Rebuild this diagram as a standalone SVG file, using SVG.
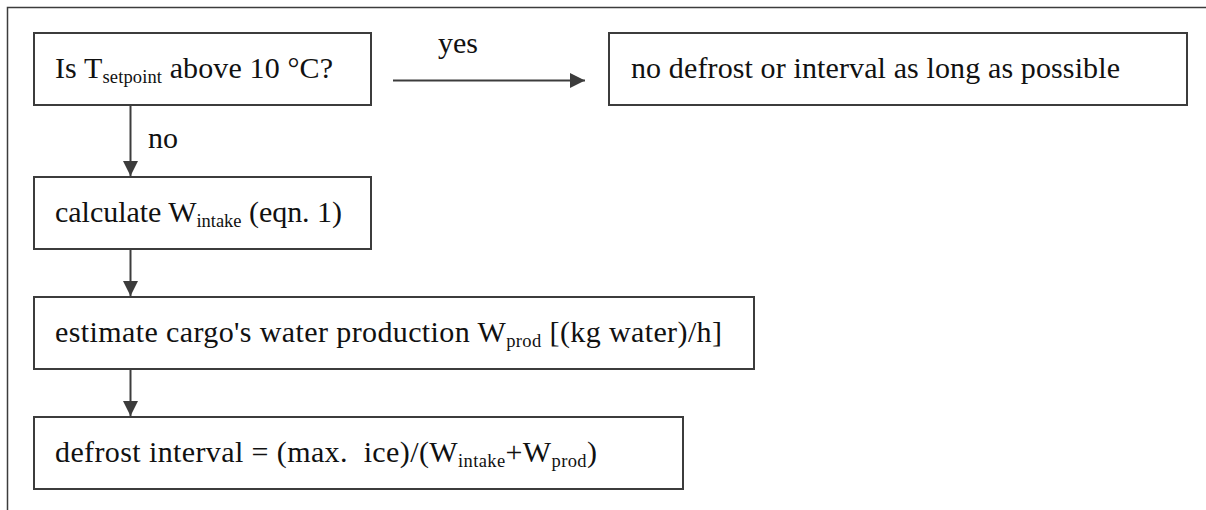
<svg xmlns="http://www.w3.org/2000/svg" width="1206" height="510" viewBox="0 0 1206 510">
  <style>
    .frame { fill: none; stroke: #3c3c3c; stroke-width: 1.5; }
    .box { fill: #ffffff; stroke: #3c3c3c; stroke-width: 2; }
    .edge { fill: none; stroke: #3c3c3c; stroke-width: 2; }
    .lbl { font-family: "Liberation Serif", "Times New Roman", serif; font-size: 30px; fill: #111111; white-space: pre; }
    .sub { font-size: 18.5px; }
  </style>
  <defs>
    <marker id="arrow" markerUnits="userSpaceOnUse" markerWidth="16" markerHeight="16" refX="15" refY="8" orient="auto">
      <path d="M0,0.5 L15,8 L0,15.5 Z" fill="#3c3c3c"/>
    </marker>
  </defs>

  <rect width="1206" height="510" fill="#ffffff"/>

  <!-- enclosing frame (top and left edges) -->
  <path class="frame" d="M7.5,510 V7.5 H1210"/>

  <!-- connectors -->
  <g id="connectors">
    <line class="edge" x1="393" y1="80.5" x2="585" y2="80.5" marker-end="url(#arrow)"/>
    <text class="lbl" x="438" y="53">yes</text>
    <line class="edge" x1="130.5" y1="105" x2="130.5" y2="176" marker-end="url(#arrow)"/>
    <text class="lbl" x="148" y="148">no</text>
    <line class="edge" x1="130.5" y1="249" x2="130.5" y2="296" marker-end="url(#arrow)"/>
    <line class="edge" x1="130.5" y1="369" x2="130.5" y2="416" marker-end="url(#arrow)"/>
  </g>

  <!-- decision: setpoint check -->
  <g id="node-setpoint">
    <rect class="box" x="34" y="33" width="337" height="72"/>
    <text class="lbl" x="55" y="78" textLength="278" lengthAdjust="spacing">Is T<tspan class="sub" dy="5">setpoint</tspan><tspan dy="-5"> above 10 °C?</tspan></text>
  </g>

  <!-- outcome: no defrost -->
  <g id="node-no-defrost">
    <rect class="box" x="609" y="33" width="578" height="72"/>
    <text class="lbl" x="631" y="78" textLength="489" lengthAdjust="spacing">no defrost or interval as long as possible</text>
  </g>

  <!-- step: intake water -->
  <g id="node-intake">
    <rect class="box" x="34" y="177" width="337" height="72"/>
    <text class="lbl" x="55" y="222" textLength="287" lengthAdjust="spacing">calculate W<tspan class="sub" dy="5">intake</tspan><tspan dy="-5"> (eqn. 1)</tspan></text>
  </g>

  <!-- step: cargo water production -->
  <g id="node-production">
    <rect class="box" x="34" y="297" width="720" height="72"/>
    <text class="lbl" x="55" y="342" textLength="667" lengthAdjust="spacing">estimate cargo's water production W<tspan class="sub" dy="5">prod</tspan><tspan dy="-5"> [(kg water)/h]</tspan></text>
  </g>

  <!-- result: defrost interval -->
  <g id="node-interval">
    <rect class="box" x="34" y="417" width="649" height="72"/>
    <text class="lbl" x="55" y="462" textLength="542" lengthAdjust="spacing">defrost interval = (max.  ice)/(W<tspan class="sub" dy="5">intake</tspan><tspan dy="-5">+W</tspan><tspan class="sub" dy="5">prod</tspan><tspan dy="-5">)</tspan></text>
  </g>
</svg>
